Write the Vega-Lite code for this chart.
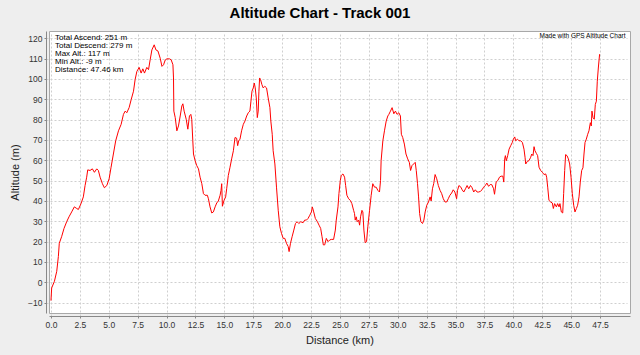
{
 "$schema": "https://vega.github.io/schema/vega-lite/v6.json",
 "autosize": {"type": "none"},
 "padding": {"left": 49, "top": 31, "right": 10, "bottom": 42},
 "width": 581,
 "height": 282,
 "background": "#eeeeee",
 "title": {"text": "Altitude Chart - Track 001", "font": "Liberation Sans", "fontSize": 15, "fontWeight": "bold", "color": "#000000", "anchor": "middle", "frame": "group", "dx": -19.5, "dy": 15, "baseline": "alphabetic", "offset": 13},
 "config": {
  "view": {"fill": "#ffffff", "stroke": "#a8a8a8", "strokeWidth": 1},
  "axis": {"gridColor": "#cfcfcf", "gridDash": [2, 2], "gridWidth": 1, "domainColor": "#888888", "tickColor": "#888888", "tickSize": 2, "offset": 3, "labelFont": "Liberation Sans", "labelFontSize": 8.5, "labelColor": "#333333", "labelPadding": 2, "labelOverlap": false, "labelBound": false, "titleFont": "Liberation Sans", "titleFontSize": 11, "titleFontWeight": "normal", "titleColor": "#222222"}
 },
 "resolve": {"axis": {"x": "independent", "y": "independent"}},
 "layer": [
  {
   "data": {"values": [
  {"d":0,"a":-9},{"d":0.06,"a":-2.8},{"d":0.3,"a":0.5},{"d":0.5,"a":5.4},{"d":0.64,"a":12.7},{"d":0.72,"a":19.2},{"d":0.92,"a":22.4},{"d":1.13,"a":26.5},{"d":1.36,"a":29.8},{"d":1.56,"a":32.2},{"d":1.79,"a":34.6},{"d":2.02,"a":37.1},{"d":2.23,"a":36.3},{"d":2.37,"a":35.8},{"d":2.6,"a":38.7},{"d":2.8,"a":42},{"d":2.95,"a":47.6},{"d":3.09,"a":51.7},{"d":3.18,"a":55.3},{"d":3.38,"a":55},{"d":3.58,"a":55.8},{"d":3.76,"a":54.1},{"d":3.96,"a":55.8},{"d":4.1,"a":55},{"d":4.25,"a":51.7},{"d":4.45,"a":48.5},{"d":4.62,"a":46.5},{"d":4.83,"a":47.6},{"d":5.03,"a":50.9},{"d":5.2,"a":56.6},{"d":5.4,"a":63.1},{"d":5.6,"a":69.6},{"d":5.84,"a":74.5},{"d":6.07,"a":77.7},{"d":6.27,"a":82.6},{"d":6.42,"a":84.2},{"d":6.56,"a":83.4},{"d":6.76,"a":85.9},{"d":6.94,"a":89.9},{"d":7.14,"a":94},{"d":7.28,"a":99.7},{"d":7.43,"a":103.7},{"d":7.63,"a":105.7},{"d":7.8,"a":102.9},{"d":7.95,"a":105},{"d":8.09,"a":102.9},{"d":8.29,"a":105.7},{"d":8.44,"a":104.6},{"d":8.58,"a":109.4},{"d":8.73,"a":114.3},{"d":8.93,"a":116.8},{"d":9.08,"a":114.3},{"d":9.25,"a":113.8},{"d":9.45,"a":110.2},
  {"d":9.6,"a":106.2},{"d":9.74,"a":107},{"d":9.89,"a":109.4},{"d":10.03,"a":109.9},{"d":10.26,"a":109.9},{"d":10.4,"a":109.4},{"d":10.55,"a":107},{"d":10.6,"a":100.5},{"d":10.63,"a":84.2},{"d":10.75,"a":81},{"d":10.89,"a":74.5},{"d":11.03,"a":76.9},{"d":11.18,"a":81.8},{"d":11.32,"a":86.7},{"d":11.41,"a":87.8},{"d":11.52,"a":84.2},{"d":11.7,"a":80.2},{"d":11.84,"a":75.3},{"d":11.98,"a":81.8},{"d":12.1,"a":82.6},{"d":12.18,"a":80.2},{"d":12.27,"a":69.6},{"d":12.33,"a":63.1},{"d":12.47,"a":59.8},{"d":12.61,"a":57.4},{"d":12.76,"a":55.8},{"d":12.9,"a":51.7},{"d":13.05,"a":48.5},{"d":13.19,"a":43.6},{"d":13.33,"a":42.8},{"d":13.53,"a":42.8},{"d":13.62,"a":41.1},{"d":13.76,"a":37.1},{"d":13.91,"a":34.1},{"d":14.05,"a":34.6},{"d":14.2,"a":37.1},{"d":14.34,"a":39},{"d":14.48,"a":40},{"d":14.63,"a":42.8},{"d":14.71,"a":45.2},{"d":14.77,"a":48.5},{"d":14.83,"a":37.4},{"d":14.97,"a":40.3},{"d":15.11,"a":42},{"d":15.2,"a":46},{"d":15.34,"a":52.5},{"d":15.49,"a":56.6},{"d":15.63,"a":60.7},{"d":15.78,"a":64.7},{"d":15.92,"a":71.2},{"d":16.06,"a":70.9},{"d":16.15,"a":67.2},{"d":16.24,"a":69.6},{"d":16.35,"a":70.4},{"d":16.49,"a":74.5},{"d":16.64,"a":77.7},{"d":16.78,"a":79.3},{"d":16.93,"a":81.8},{"d":17.07,"a":83.4},{"d":17.21,"a":84.2},{"d":17.3,"a":89.1},{"d":17.39,"a":94},{"d":17.5,"a":95.6},{"d":17.59,"a":98},{"d":17.67,"a":95.6},{"d":17.76,"a":90.7},{"d":17.85,"a":81},{"d":17.93,"a":84.2},{"d":17.99,"a":94},{"d":18.05,"a":100.5},{"d":18.13,"a":99.7},{"d":18.25,"a":97.2},{"d":18.36,"a":95.6},{"d":18.5,"a":96.4},{"d":18.65,"a":95.6},{"d":18.79,"a":90.7},{"d":18.94,"a":85.9},{"d":19.02,"a":79.3},{"d":19.14,"a":72.8},{"d":19.22,"a":64.7},
  {"d":19.37,"a":58.2},{"d":19.51,"a":46.8},{"d":19.66,"a":35.4},{"d":19.8,"a":27.3},{"d":19.94,"a":24.1},{"d":20.09,"a":21.6},{"d":20.23,"a":21.6},{"d":20.37,"a":19.2},{"d":20.52,"a":17.6},{"d":20.6,"a":15.1},{"d":20.72,"a":19.2},{"d":20.86,"a":22.4},{"d":21.01,"a":25.7},{"d":21.15,"a":28.9},{"d":21.29,"a":29.8},{"d":21.44,"a":28.9},{"d":21.61,"a":29.8},{"d":21.81,"a":29.3},{"d":21.95,"a":30.6},{"d":22.1,"a":30.6},{"d":22.24,"a":31.4},{"d":22.39,"a":33},{"d":22.53,"a":34.6},{"d":22.61,"a":37.1},{"d":22.73,"a":34.6},{"d":22.87,"a":31.4},{"d":23.05,"a":29.8},{"d":23.19,"a":28.1},{"d":23.33,"a":26.5},{"d":23.45,"a":22.4},{"d":23.56,"a":18.4},{"d":23.68,"a":18.4},{"d":23.82,"a":21.6},{"d":23.97,"a":20},{"d":24.11,"a":20.8},{"d":24.25,"a":21.1},{"d":24.45,"a":21.1},{"d":24.6,"a":25.7},{"d":24.68,"a":30.6},{"d":24.83,"a":37.1},{"d":24.91,"a":43.6},{"d":25.03,"a":50.1},{"d":25.11,"a":52.5},{"d":25.26,"a":53.3},{"d":25.4,"a":51.7},{"d":25.49,"a":47.6},{"d":25.6,"a":42.8},{"d":25.75,"a":41.1},{"d":25.89,"a":40.3},{"d":26.03,"a":38.7},{"d":26.18,"a":35.4},{"d":26.26,"a":33.8},{"d":26.32,"a":30.6},{"d":26.41,"a":32.2},{"d":26.49,"a":29.8},{"d":26.61,"a":30.6},{"d":26.7,"a":28.1},{"d":26.78,"a":32.2},{"d":26.9,"a":35.4},{"d":26.98,"a":34.6},{"d":27.07,"a":25.7},{"d":27.18,"a":19.5},{"d":27.3,"a":20},{"d":27.41,"a":27.3},{"d":27.56,"a":35.4},{"d":27.7,"a":42.8},{"d":27.84,"a":48.5},{"d":27.99,"a":46.8},{"d":28.13,"a":46.8},{"d":28.28,"a":45.2},{"d":28.42,"a":44.4},{"d":28.51,"a":50.1},{"d":28.56,"a":59.8},{"d":28.71,"a":69.6},{"d":28.85,"a":74.5},{"d":29,"a":79.3},{"d":29.14,"a":81.8},
  {"d":29.23,"a":82.6},{"d":29.37,"a":84.2},{"d":29.51,"a":85.9},{"d":29.66,"a":82.9},{"d":29.8,"a":84.2},{"d":29.94,"a":82.6},{"d":30.09,"a":83.4},{"d":30.23,"a":81.8},{"d":30.31,"a":72.8},{"d":30.43,"a":71.2},{"d":30.57,"a":68},{"d":30.71,"a":63.1},{"d":30.86,"a":60.7},{"d":31,"a":59},{"d":31.11,"a":55},{"d":31.23,"a":57.4},{"d":31.37,"a":58.2},{"d":31.51,"a":59},{"d":31.6,"a":55},{"d":31.71,"a":48.5},{"d":31.8,"a":42},{"d":31.89,"a":33.8},{"d":32,"a":29.8},{"d":32.14,"a":28.9},{"d":32.26,"a":30.6},{"d":32.37,"a":34.6},{"d":32.51,"a":37.9},{"d":32.66,"a":39.5},{"d":32.8,"a":42},{"d":32.89,"a":40},{"d":33,"a":46},{"d":33.11,"a":48.5},{"d":33.23,"a":53},{"d":33.37,"a":50.9},{"d":33.51,"a":47.6},{"d":33.66,"a":45.2},{"d":33.8,"a":43.6},{"d":33.94,"a":41.1},{"d":34.09,"a":39.5},{"d":34.23,"a":39.5},{"d":34.37,"a":41.1},{"d":34.51,"a":42.8},{"d":34.66,"a":43.9},{"d":34.8,"a":45.5},{"d":34.94,"a":44.4},{"d":35.09,"a":41.1},{"d":35.17,"a":45.2},{"d":35.29,"a":47.6},{"d":35.46,"a":46.8},{"d":35.57,"a":45.5},{"d":35.71,"a":44.4},{"d":35.86,"a":46},{"d":36,"a":47.6},{"d":36.14,"a":46},{"d":36.29,"a":47.6},{"d":36.43,"a":46.5},{"d":36.57,"a":44.4},{"d":36.71,"a":45.5},{"d":36.86,"a":44.4},{"d":37,"a":44.4},{"d":37.14,"a":44.7},{"d":37.29,"a":45.5},{"d":37.43,"a":46.8},{"d":37.57,"a":47.6},{"d":37.71,"a":48.8},{"d":37.86,"a":47.2},{"d":38,"a":48.1},{"d":38.14,"a":48},{"d":38.29,"a":46},{"d":38.37,"a":43.3},{"d":38.51,"a":49.3},{"d":38.66,"a":50.1},{"d":38.8,"a":51.7},{"d":38.94,"a":52.2},{"d":39.09,"a":52.2},{"d":39.17,"a":49.3},{"d":39.25,"a":60.7},{"d":39.31,"a":62.3},{"d":39.39,"a":59.8},{"d":39.51,"a":62.3},
  {"d":39.63,"a":65.5},{"d":39.77,"a":67.2},{"d":39.91,"a":68.8},{"d":40,"a":70.4},{"d":40.12,"a":71.5},{"d":40.2,"a":69.6},{"d":40.35,"a":70.4},{"d":40.49,"a":69.6},{"d":40.63,"a":69.6},{"d":40.78,"a":68.8},{"d":40.92,"a":65.5},{"d":41.01,"a":61.5},{"d":41.07,"a":58.2},{"d":41.21,"a":59.5},{"d":41.35,"a":59.8},{"d":41.5,"a":61.5},{"d":41.59,"a":63.1},{"d":41.7,"a":62.3},{"d":41.79,"a":66.7},{"d":41.87,"a":64.7},{"d":41.99,"a":63.4},{"d":42.1,"a":62.3},{"d":42.22,"a":56.6},{"d":42.36,"a":55},{"d":42.51,"a":54.1},{"d":42.65,"a":53},{"d":42.8,"a":53.3},{"d":42.88,"a":51.7},{"d":42.97,"a":46.8},{"d":43.08,"a":40.3},{"d":43.23,"a":39.5},{"d":43.37,"a":39},{"d":43.46,"a":36.3},{"d":43.57,"a":38.7},{"d":43.72,"a":37.1},{"d":43.83,"a":38.7},{"d":43.95,"a":37.1},{"d":44.03,"a":38.7},{"d":44.15,"a":34.6},{"d":44.27,"a":34.1},{"d":44.35,"a":43.6},{"d":44.44,"a":55},{"d":44.52,"a":62.8},{"d":44.64,"a":62.3},{"d":44.76,"a":60.7},{"d":44.87,"a":58.2},{"d":44.99,"a":51.7},{"d":45.1,"a":43.6},{"d":45.22,"a":37.9},{"d":45.33,"a":34.6},{"d":45.45,"a":36.3},{"d":45.56,"a":37.9},{"d":45.68,"a":42},{"d":45.79,"a":49.3},{"d":45.91,"a":55},{"d":46.02,"a":56.3},{"d":46.11,"a":63.1},{"d":46.2,"a":68.8},{"d":46.31,"a":70.4},{"d":46.43,"a":72.8},{"d":46.54,"a":74.5},{"d":46.66,"a":78.5},{"d":46.74,"a":76.9},{"d":46.8,"a":84.2},{"d":46.89,"a":81},{"d":47,"a":80.2},{"d":47.09,"a":87.5},{"d":47.18,"a":89.1},{"d":47.26,"a":98.9},{"d":47.35,"a":105.4},{"d":47.46,"a":112.2}
   ]},
   "mark": {"type": "line", "color": "#ff0000", "strokeWidth": 1, "clip": true},
   "encoding": {
    "x": {"field": "d", "type": "quantitative", "title": "Distance (km)",
          "scale": {"domain": [-0.17, 50.09], "nice": false, "zero": false},
          "axis": {"values": [0, 2.5, 5, 7.5, 10, 12.5, 15, 17.5, 20, 22.5, 25, 27.5, 30, 32.5, 35, 37.5, 40, 42.5, 45, 47.5], "format": ".1f", "titlePadding": 6, "labelOverlap": false, "labelSeparation": 0}},
    "y": {"field": "a", "type": "quantitative", "title": "Altitude (m)",
          "scale": {"domain": [-15.1, 123.6], "nice": false, "zero": false},
          "axis": {"values": [-10, 0, 10, 20, 30, 40, 50, 60, 70, 80, 90, 100, 110, 120], "format": "d", "titlePadding": 7, "labelOverlap": false, "labelSeparation": 0}}
   }
  },
  {
   "data": {"values": [{"label": "stats"}]},
   "mark": {"type": "text", "text": ["Total Ascend: 251 m", "Total Descend: 279 m", "Max Alt.: 117 m", "Min Alt.: -9 m", "Distance: 47.46 km"], "align": "left", "baseline": "top", "font": "Liberation Sans", "fontSize": 8, "lineHeight": 8, "color": "#000000"},
   "encoding": {"x": {"datum": 0.35, "type": "quantitative", "axis": null}, "y": {"datum": 122.2, "type": "quantitative", "axis": null}}
  },
  {
   "data": {"values": [{"label": "credit"}]},
   "mark": {"type": "text", "text": "Made with GPS Altitude Chart", "align": "right", "baseline": "middle", "font": "Liberation Sans", "fontSize": 6.5, "color": "#000000"},
   "encoding": {"x": {"datum": 49.7, "type": "quantitative", "axis": null}, "y": {"datum": 120.9, "type": "quantitative", "axis": null}}
  }
 ]
}
